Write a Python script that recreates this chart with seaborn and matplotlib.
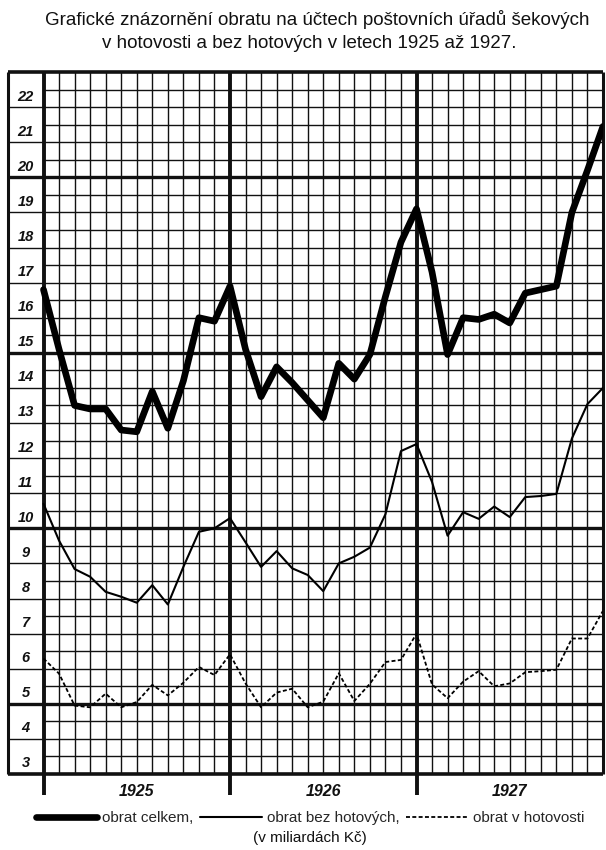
import numpy as np
import pandas as pd
import matplotlib
matplotlib.use('Agg')
import matplotlib.pyplot as plt
import seaborn as sns

# month boundaries: 0 = start of 1925 ... 36 = end of 1927
months = list(range(37))
years = ['1925', '1926', '1927']
year_mid = [6, 18, 30]
y_labels = list(range(3, 23))

# values in billions Kc
obrat_celkem = [16.8, 15.1, 13.5, 13.4, 13.4, 12.8, 12.75, 13.9, 12.85, 14.2,
                16.0, 15.9, 16.9, 15.1, 13.75, 14.6, 14.15, 13.65, 13.15, 14.7,
                14.25, 14.95, 16.6, 18.15, 19.1, 17.3, 14.95, 16.0, 15.95, 16.1,
                15.85, 16.7, 16.8, 16.9, 19.0, 20.2, 21.45]
obrat_bez_hotovych = [10.7, 9.65, 8.84, 8.62, 8.19, 8.05, 7.88, 8.38, 7.83, 8.9,
                      9.9, 10.0, 10.29, 9.6, 8.9, 9.35, 8.86, 8.67, 8.21, 9.0,
                      9.19, 9.45, 10.4, 12.2, 12.4, 11.32, 9.79, 10.46, 10.27, 10.62,
                      10.32, 10.89, 10.92, 10.98, 12.56, 13.54, 14.0]
obrat_v_hotovosti = [6.29, 5.86, 4.95, 4.9, 5.29, 4.9, 5.05, 5.54, 5.24, 5.6,
                     6.05, 5.82, 6.41, 5.58, 4.9, 5.32, 5.43, 4.9, 5.06, 5.87,
                     5.08, 5.57, 6.19, 6.25, 7.0, 5.55, 5.16, 5.63, 5.93, 5.5,
                     5.58, 5.9, 5.93, 5.97, 6.86, 6.86, 7.65]

df = pd.DataFrame({'mesic': months, 'celkem': obrat_celkem,
                   'bez': obrat_bez_hotovych, 'hotovost': obrat_v_hotovosti})

sns.set_style('white')
plt.rcParams['font.family'] = ['Liberation Sans', 'DejaVu Sans']

W, H = 606, 850
fig = plt.figure(figsize=(W / 100, H / 100), dpi=100)
x0_px, x36_px, lab_px = 43.5, 603, 8
px_per_m = (x36_px - x0_px) / 36
xmin = -(x0_px - lab_px) / px_per_m
ax = fig.add_axes([lab_px / W, 1 - 774 / H, (x36_px - lab_px) / W, (774 - 72) / H])

ink = '#111111'
# grid (hand-drawn paper look: half units, monthly columns)
for m in range(1, 36):
    if m % 12:
        ax.vlines(m, 3, 23, color=ink, lw=1.0, zorder=1)
for m in (0, 12, 24):
    ax.vlines(m, 2.4, 23, color=ink, lw=2.8, zorder=2, clip_on=False)
ax.vlines(36, 3, 23, color=ink, lw=2.2, zorder=2, clip_on=False)
ax.vlines(xmin, 3, 23, color=ink, lw=2.2, zorder=2, clip_on=False)
for v in np.arange(3.5, 23, 1.0):
    ax.hlines(v, 0, 36, color=ink, lw=1.0, zorder=1)
for v in range(4, 23):
    if v % 5:
        ax.hlines(v, xmin, 36, color=ink, lw=1.0, zorder=1)
for v in (5, 10, 15, 20):
    ax.hlines(v, xmin, 36, color=ink, lw=2.4, zorder=2)
for v in (3, 23):
    ax.hlines(v, xmin, 36, color=ink, lw=2.6, zorder=2, clip_on=False)

# series
sns.lineplot(data=df, x='mesic', y='celkem', ax=ax, color='black', lw=4.8,
             label='obrat celkem,', zorder=5)
sns.lineplot(data=df, x='mesic', y='bez', ax=ax, color='black', lw=1.5,
             label='obrat bez hotových,', zorder=5)
sns.lineplot(data=df, x='mesic', y='hotovost', ax=ax, color='black', lw=1.3,
             label='obrat v hotovosti', zorder=5)
ax.lines[-1].set_dashes((2.2, 1.3))
ax.set_xlim(xmin, 36)
ax.set_ylim(3, 23)
ax.axis('off')
handles, labels = ax.get_legend_handles_labels()
ax.get_legend().remove()

# y labels in the left column
for v in y_labels:
    ax.text(xmin / 2, v + 0.1, str(v), ha='center', va='bottom', fontsize=10.5,
            fontstyle='italic', fontweight='bold', color=ink)

# year labels
for yr, m in zip(years, year_mid):
    ax.text(m, 2.5, yr, ha='center', va='center', fontsize=11.5,
            fontstyle='italic', fontweight='bold', color=ink, clip_on=False)

fig.text(317 / W, 1 - 25 / H,
         'Grafické znázornění obratu na účtech poštovních úřadů šekových',
         ha='center', va='baseline', fontsize=13.5, color=ink)
fig.text(309 / W, 1 - 48 / H,
         'v hotovosti a bez hotových v letech 1925 až 1927.',
         ha='center', va='baseline', fontsize=13.5, color=ink)

fig.legend(handles, labels, loc='center', bbox_to_anchor=(310 / W, 1 - 818 / H),
           ncol=3, frameon=False, fontsize=11, handlelength=4.0,
           handletextpad=0.35, columnspacing=0.45)
fig.text(310 / W, 1 - 838 / H, '(v miliardách Kč)', ha='center', va='center',
         fontsize=11, color=ink)

fig.savefig('out.png', dpi=100, facecolor='white')
